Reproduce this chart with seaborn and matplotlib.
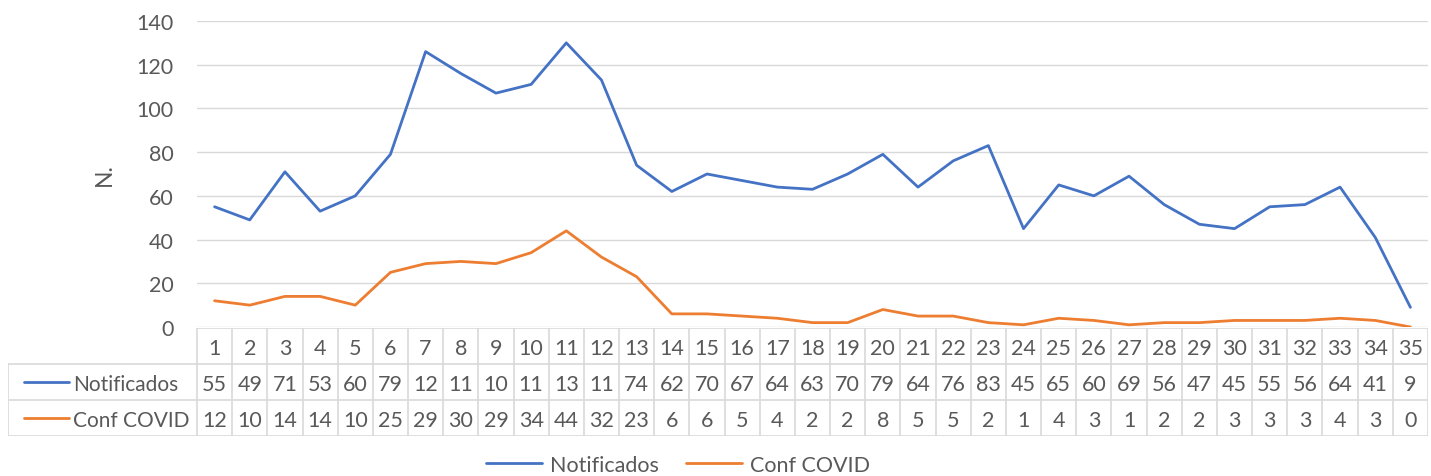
import numpy as np
import pandas as pd
import matplotlib
matplotlib.use("Agg")
import matplotlib.pyplot as plt
import seaborn as sns

# data
weeks = list(range(1, 36))
notificados = [55, 49, 71, 53, 60, 79, 126, 116, 107, 111, 130, 113, 74, 62, 70, 67, 64, 63,
               70, 79, 64, 76, 83, 45, 65, 60, 69, 56, 47, 45, 55, 56, 64, 41, 9]
conf_covid = [12, 10, 14, 14, 10, 25, 29, 30, 29, 34, 44, 32, 23, 6, 6, 5, 4, 2,
              2, 8, 5, 5, 2, 1, 4, 3, 1, 2, 2, 3, 3, 3, 4, 3, 0]
series_names = ["Notificados", "Conf COVID"]
colors = ["#4472C4", "#ED7D31"]
y_ticks = [0, 20, 40, 60, 80, 100, 120, 140]

sns.set_theme(style="white")
plt.rcParams['font.family'] = ['Lato', 'DejaVu Sans']
txt = "#595959"
grid = "#D9D9D9"
fs = 15.5

df = pd.DataFrame({
    "week": weeks * 2,
    "value": notificados + conf_covid,
    "serie": [series_names[0]] * len(weeks) + [series_names[1]] * len(weeks),
})

W, H = 1431, 477
fig = plt.figure(figsize=(W / 100, H / 100), dpi=100)

def px_box(x0, y0, x1, y1):
    return [x0 / W, 1 - y1 / H, (x1 - x0) / W, (y1 - y0) / H]

ax = fig.add_axes(px_box(197, 22, 1428, 328))
sns.lineplot(data=df, x="week", y="value", hue="serie", palette=colors,
             linewidth=2.0, ax=ax, legend=False)
ax.set_xlim(0.5, 35.5)
ax.set_ylim(0, 140)
ax.set_yticks(y_ticks)
ax.tick_params(axis="y", labelsize=fs, colors=txt, length=0, pad=17)
ax.set_xticks([])
ax.set_xlabel("")
ax.set_ylabel("N.", fontsize=fs + 1, color=txt)
ax.yaxis.set_label_coords((115 - 197) / 1231, 0.5)
ax.yaxis.grid(True, color=grid, linewidth=1)
for s in ax.spines.values():
    s.set_visible(False)
ax.set_axisbelow(True)

# data table under the chart
unit = (1428 - 197) / 35
tab = fig.add_axes(px_box(8, 329, 1428, 437))
x_left = 0.5 - (197 - 8) / unit
tab.set_xlim(x_left, 35.5)
tab.set_ylim(3, 0)
tab.axis("off")

# borders
tab.plot([0.5, 35.5], [0, 0], color=grid, lw=1.2)
for r in [1, 2, 3]:
    tab.plot([x_left, 35.5], [r, r], color=grid, lw=1.2)
for i in range(36):
    tab.plot([i + 0.5, i + 0.5], [0, 3], color=grid, lw=1.2)
tab.plot([x_left, x_left], [1, 3], color=grid, lw=1.2)

def cell_text(v):
    s = str(v)
    return s if len(s) <= 2 else s[:2]  # cells too narrow for 3 digits

for i, w in enumerate(weeks):
    tab.text(w, 0.55, str(w), ha="center", va="center", fontsize=fs, color=txt)
    tab.text(w, 1.55, cell_text(notificados[i]), ha="center", va="center", fontsize=fs, color=txt)
    tab.text(w, 2.55, cell_text(conf_covid[i]), ha="center", va="center", fontsize=fs, color=txt)

# row headers: legend key + name, left aligned
for r, (name, c) in enumerate(zip(series_names, colors)):
    tab.plot([x_left + 16 / unit, x_left + 61 / unit], [r + 1.5, r + 1.5], color=c, lw=2.0)
    tab.text(x_left + 65 / unit, r + 1.55, name, ha="left", va="center", fontsize=fs - 0.5,
             color=txt)

# legend
handles = [plt.Line2D([], [], color=c, lw=2.0) for c in colors]
leg = fig.legend(handles, series_names, loc="center", bbox_to_anchor=(678 / W, 1 - 466 / H),
                 ncol=2, frameon=False, fontsize=fs, handlelength=2.6, columnspacing=1.3,
                 handletextpad=0.35)
for t in leg.get_texts():
    t.set_color(txt)

fig.savefig("out.png", dpi=100)
